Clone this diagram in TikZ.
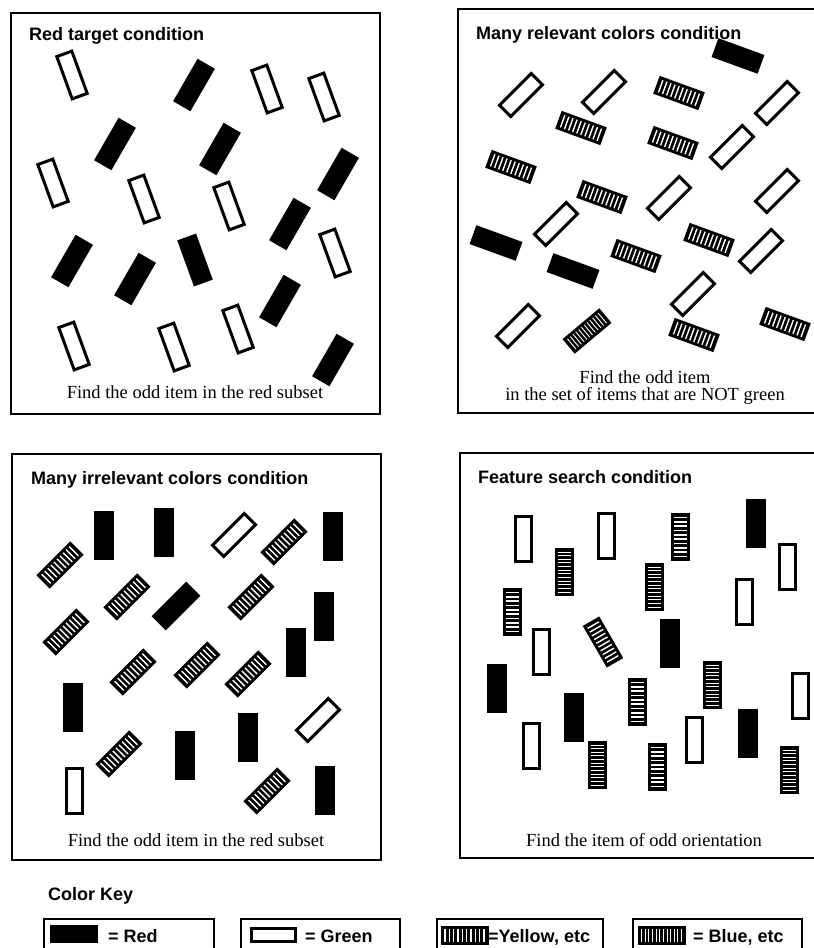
\documentclass[tikz,border=0pt]{standalone}
\usepackage{fontspec}
\setmainfont{Liberation Serif}
\newfontfamily\headfont{Liberation Sans}
\usetikzlibrary{positioning}

\tikzset{
  panel/.style={line width=2.5pt},
  keybox/.style={line width=2pt},
  title/.style={font=\headfont\bfseries\fontsize{18}{20}\selectfont,inner sep=0pt,anchor=base west},
  caption/.style={font=\fontsize{18.5}{17.5}\selectfont,inner sep=0pt,align=center},
  redbar/.pic={\fill (-10,-24.5) rectangle (10,24.5);},
  greenbar/.pic={\draw[line width=3pt,fill=white] (-8,-22.5) rectangle (8,22.5);},
  yellowbar/.pic={\fill (-9.5,-24) rectangle (9.5,24);
    \foreach \k in {0,...,9} \draw[white,line width=1.4pt] (-6.5,-19.5+4.33*\k) -- (6.5,-19.5+4.33*\k);},
  bluebar/.pic={\fill (-9.5,-24) rectangle (9.5,24);
    \foreach \k in {0,...,11} \draw[white,line width=0.9pt] (-6.5,-20+3.64*\k) -- (6.5,-20+3.64*\k);},
}

\begin{document}
\begin{tikzpicture}[x=1pt,y=-1pt]
  \useasboundingbox (0,0) rectangle (814,948);
  \fill[white] (0,0) rectangle (814,948);

  % the four panels
  \draw[panel] (11,13) rectangle (380,414);
  \draw[panel] (814,9) -| (458,413) -- (814,413);
  \draw[panel] (12,454) rectangle (381,860);
  \draw[panel] (814,453) -| (460,858) -- (814,858);

  \node[title] (redtitle) at (29,40) {Red target condition};
  \node[title] (reltitle) at (476,39) {Many relevant colors condition};
  \node[title] (irrtitle) at (31,484) {Many irrelevant colors condition};
  \node[title] (feattitle) at (478,483) {Feature search condition};

  \node[caption,anchor=base] (redcap) at (195,398) {Find the odd item in the red subset};
  \node[caption] (relcap) at (645,387.5) {Find the odd item\\in the set of items that are NOT green};
  \node[caption,anchor=base] (irrcap) at (196,846) {Find the odd item in the red subset};
  \node[caption,anchor=base] (featcap) at (644,846) {Find the item of odd orientation};

  % red target condition
  \foreach \x/\y in {72/75,267/89,324/97,53/183,144/199,229/206,335/253,74/346,174/347,238/329}
    \pic[rotate=20] at (\x,\y) {greenbar};
  \foreach \x/\y/\a in {194/85/-30,115/144/-30,220/149/-30,338/174/-30,290/224/-30,
                        72/261/-30,135/279/-30,195/260/20,280/301/-30,333/360/-30}
    \pic[rotate=\a] at (\x,\y) {redbar};

  % many relevant colors
  \foreach \x/\y in {738/56,496/243,573/271}
    \pic[rotate=70] at (\x,\y) {redbar};
  \foreach \x/\y in {521/95,604/92,777/103,732/147,669/198,777/191,556/224,761/251,693/294,518/326}
    \pic[rotate=-45] at (\x,\y) {greenbar};
  \foreach \x/\y in {679/93,581/128,673/143,511/167,602/197,709/240,636/256,694/335,785/324}
    \pic[rotate=70] at (\x,\y) {yellowbar};
  \pic[rotate=-50] at (587,331) {bluebar};

  % many irrelevant colors
  \foreach \x/\y/\a in {104/535/0,164/532/0,333/536/0,324/616/0,296/652/0,73/707/0,
                        248/737/0,185/755/0,325/790/0,176/606/-45}
    \pic[rotate=\a] at (\x,\y) {redbar};
  \foreach \x/\y/\a in {234/535/-45,318/720/-45,74/791/0}
    \pic[rotate=\a] at (\x,\y) {greenbar};
  \foreach \x/\y in {60/565,284/542,127/597,251/597,66/632,133/672,197/665,248/674,119/754,267/791}
    \pic[rotate=-45] at (\x,\y) {yellowbar};

  % feature search
  \foreach \x/\y in {523/539,606/536,787/567,744/602,541/652,800/696,531/746,694/740}
    \pic at (\x,\y) {greenbar};
  \foreach \x/\y in {756/523,670/643,497/688,574/717,748/733}
    \pic at (\x,\y) {redbar};
  \foreach \x/\y/\a in {680/537/0,512/612/0,603/642/30,637/702/0,657/767/0}
    \pic[rotate=\a] at (\x,\y) {yellowbar};
  \foreach \x/\y in {564/572,654/587,712/685,597/765,789/770}
    \pic at (\x,\y) {bluebar};

  % color key
  \node[title] (keytitle) at (48,900) {Color Key};
  \draw[keybox] (44,948) |- (214,919) -- (214,948);
  \draw[keybox] (241,948) |- (400,919) -- (400,948);
  \draw[keybox] (437,948) |- (603,919) -- (603,948);
  \draw[keybox] (633,948) |- (802,919) -- (802,948);
  \fill (50,925) rectangle (98,943);
  \draw[line width=3pt] (251.5,928.5) rectangle (295.5,941.5);
  \pic[rotate=90] at (464.5,935) {yellowbar};
  \pic[rotate=90] at (661.5,935) {bluebar};
  \node[title] (redkey) at (108,942) {= Red};
  \node[title] (greenkey) at (305,942) {= Green};
  \node[title] (yellowkey) at (488,942) {=Yellow, etc};
  \node[title] (bluekey) at (693,942) {= Blue, etc};
\end{tikzpicture}
\end{document}
